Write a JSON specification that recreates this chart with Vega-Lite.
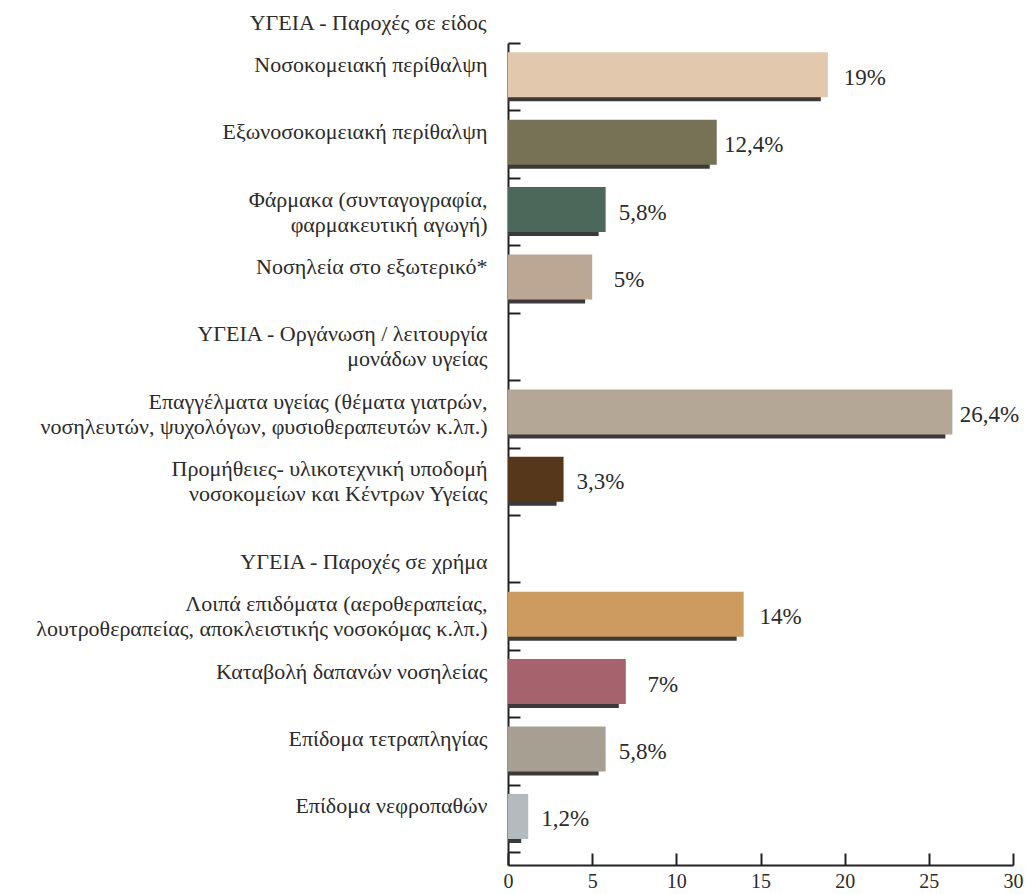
{
  "$schema": "https://vega.github.io/schema/vega-lite/v6.json",
  "width": 505,
  "height": 822,
  "autosize": {"type": "none"},
  "padding": {"left": 508, "top": 43, "right": 13, "bottom": 29},
  "background": "white",
  "config": {"view": {"stroke": null}, "font": "Liberation Serif"},
  "data": {
    "values": [
      {"category": "Νοσοκομειακή περίθαλψη", "value": 19, "label": "19%"},
      {"category": "Εξωνοσοκομειακή περίθαλψη", "value": 12.4, "label": "12,4%"},
      {"category": "Φάρμακα (συνταγογραφία,|φαρμακευτική αγωγή)", "value": 5.8, "label": "5,8%"},
      {"category": "Νοσηλεία στο εξωτερικό*", "value": 5, "label": "5%"},
      {"category": "Επαγγέλματα υγείας (θέματα γιατρών,|νοσηλευτών, ψυχολόγων, φυσιοθεραπευτών κ.λπ.)", "value": 26.4, "label": "26,4%"},
      {"category": "Προμήθειες- υλικοτεχνική υποδομή|νοσοκομείων και Κέντρων Υγείας", "value": 3.3, "label": "3,3%"},
      {"category": "Λοιπά επιδόματα (αεροθεραπείας,|λουτροθεραπείας, αποκλειστικής νοσοκόμας κ.λπ.)", "value": 14, "label": "14%"},
      {"category": "Καταβολή δαπανών νοσηλείας", "value": 7, "label": "7%"},
      {"category": "Επίδομα τετραπληγίας", "value": 5.8, "label": "5,8%"},
      {"category": "Επίδομα νεφροπαθών", "value": 1.2, "label": "1,2%"}
    ]
  },
  "encoding": {
    "y": {
      "field": "category",
      "type": "nominal",
      "sort": null,
      "scale": {
        "domain": [
          "Νοσοκομειακή περίθαλψη",
          "Εξωνοσοκομειακή περίθαλψη",
          "Φάρμακα (συνταγογραφία,|φαρμακευτική αγωγή)",
          "Νοσηλεία στο εξωτερικό*",
          "ΥΓΕΙΑ - Οργάνωση / λειτουργία|μονάδων υγείας",
          "Επαγγέλματα υγείας (θέματα γιατρών,|νοσηλευτών, ψυχολόγων, φυσιοθεραπευτών κ.λπ.)",
          "Προμήθειες- υλικοτεχνική υποδομή|νοσοκομείων και Κέντρων Υγείας",
          "ΥΓΕΙΑ - Παροχές σε χρήμα",
          "Λοιπά επιδόματα (αεροθεραπείας,|λουτροθεραπείας, αποκλειστικής νοσοκόμας κ.λπ.)",
          "Καταβολή δαπανών νοσηλείας",
          "Επίδομα τετραπληγίας",
          "Επίδομα νεφροπαθών"
        ],
        "paddingInner": 0,
        "paddingOuter": 0.095,
        "align": 0
      },
      "axis": {
        "title": "ΥΓΕΙΑ - Παροχές σε είδος",
        "titleAngle": 0,
        "titleAlign": "right",
        "titleBaseline": "middle",
        "titleX": -22,
        "titleY": -21,
        "titleFont": "Liberation Serif",
        "titleFontSize": 22,
        "titleFontWeight": "normal",
        "titleColor": "#2b2b2b",
        "tickBand": "extent",
        "tickSize": -12,
        "tickWidth": 2,
        "tickColor": "#222222",
        "domainColor": "#222222",
        "domainWidth": 2,
        "labelExpr": "!isValid(datum.value) ? '' : (datum.value === 'ΥΓΕΙΑ - Παροχές σε χρήμα' ? ['', datum.value] : split(datum.value, '|'))",
        "labelFont": "Liberation Serif",
        "labelFontSize": 22,
        "labelColor": "#2b2b2b",
        "labelPadding": 33,
        "labelLineHeight": 25,
        "labelLimit": 0,
        "labelOffset": -12.5
      }
    },
    "x": {
      "field": "value",
      "type": "quantitative",
      "scale": {"domain": [0, 30], "nice": false, "zero": true},
      "axis": {
        "title": null,
        "grid": false,
        "values": [0, 5, 10, 15, 20, 25, 30],
        "tickSize": -12,
        "tickWidth": 2,
        "tickColor": "#222222",
        "domainColor": "#222222",
        "domainWidth": 2,
        "labelFont": "Liberation Serif",
        "labelFontSize": 20,
        "labelColor": "#2b2b2b",
        "labelPadding": 18,
        "labelFlush": false
      }
    }
  },
  "layer": [
    {
      "mark": {"type": "bar", "color": "#3a3a3a", "height": 45, "xOffset": -7, "yOffset": 2, "clip": true}
    },
    {
      "mark": {"type": "bar", "height": 45, "yOffset": -2},
      "encoding": {
        "color": {
          "field": "category",
          "type": "nominal",
          "legend": null,
          "scale": {
            "domain": [
              "Νοσοκομειακή περίθαλψη",
              "Εξωνοσοκομειακή περίθαλψη",
              "Φάρμακα (συνταγογραφία,|φαρμακευτική αγωγή)",
              "Νοσηλεία στο εξωτερικό*",
              "Επαγγέλματα υγείας (θέματα γιατρών,|νοσηλευτών, ψυχολόγων, φυσιοθεραπευτών κ.λπ.)",
              "Προμήθειες- υλικοτεχνική υποδομή|νοσοκομείων και Κέντρων Υγείας",
              "Λοιπά επιδόματα (αεροθεραπείας,|λουτροθεραπείας, αποκλειστικής νοσοκόμας κ.λπ.)",
              "Καταβολή δαπανών νοσηλείας",
              "Επίδομα τετραπληγίας",
              "Επίδομα νεφροπαθών"
            ],
            "range": ["#E2C8AC", "#777155", "#4B695B", "#BCA794", "#B4A795", "#56371B", "#CD9A5F", "#A6636E", "#A89F93", "#B4BBBE"]
          }
        }
      }
    },
    {
      "mark": {"type": "text", "align": "center", "baseline": "middle", "dx": 37, "dy": 1, "fontSize": 23, "font": "Liberation Serif", "color": "#2b2b2b"},
      "encoding": {"text": {"field": "label"}}
    }
  ]
}
